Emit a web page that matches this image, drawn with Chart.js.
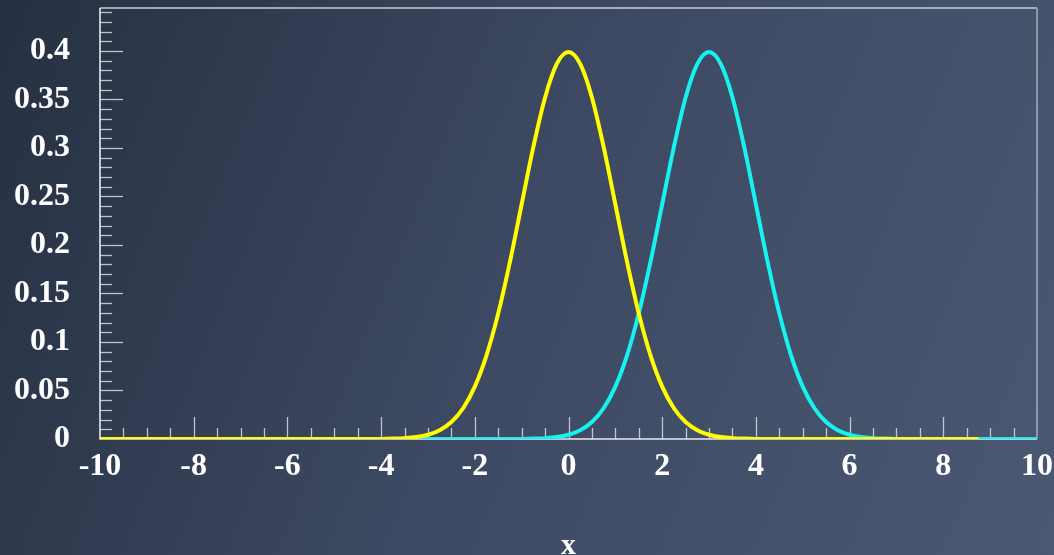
<!DOCTYPE html>
<html>
<head>
<meta charset="utf-8">
<script src="https://cdn.jsdelivr.net/npm/chart.js@4/dist/chart.umd.min.js"></script>
<style>
  html, body { margin: 0; padding: 0; }
  body {
    width: 1054px; height: 555px; overflow: hidden;
    background: linear-gradient(112deg, #263042 0%, #3d4962 48%, #4a5873 100%);
  }
  canvas { display: block; }
</style>
</head>
<body>
<canvas id="c" width="1054" height="555"></canvas>
<script>
// ---- data ----
const xValues = [
  -10,-9.75,-9.5,-9.25,-9,-8.75,-8.5,-8.25,-8,-7.75,-7.5,-7.25,-7,-6.75,-6.5,-6.25,
  -6,-5.75,-5.5,-5.25,-5,-4.75,-4.5,-4.25,-4,-3.75,-3.5,-3.25,-3,-2.75,-2.5,-2.25,
  -2,-1.75,-1.5,-1.25,-1,-0.75,-0.5,-0.25,0,0.25,0.5,0.75,1,1.25,1.5,1.75,
  2,2.25,2.5,2.75,3,3.25,3.5,3.75,4,4.25,4.5,4.75,5,5.25,5.5,5.75,
  6,6.25,6.5,6.75,7,7.25,7.5,7.75,8,8.25,8.5,8.75,9,9.25,9.5,9.75,10
];
// yellow curve (centred at 0); its trace ends near x = 8.75 in the picture
const yellowValues = [
  0,0,0,0,0,0,0,0,0,0,0,0,0,0,0,0,
  0,0,0,0,0,0,0,0.00005,0.0001,0.0004,0.0009,0.002,0.0044,0.0091,0.0175,0.0317,
  0.054,0.0863,0.1295,0.1826,0.242,0.3011,0.3521,0.3867,0.3989,0.3867,0.3521,0.3011,0.242,0.1826,0.1295,0.0863,
  0.054,0.0317,0.0175,0.0091,0.0044,0.002,0.0009,0.0004,0.0001,0.00005,0,0,0,0,0,0,
  0,0,0,0,0,0,0,0,0,0,0,0
];
// cyan curve (centred at 3)
const cyanValues = [
  0,0,0,0,0,0,0,0,0,0,0,0,0,0,0,0,
  0,0,0,0,0,0,0,0,0,0,0,0,0,0,0,0,
  0,0,0,0.00005,0.0001,0.0004,0.0009,0.002,0.0044,0.0091,0.0175,0.0317,0.054,0.0863,0.1295,0.1826,
  0.242,0.3011,0.3521,0.3867,0.3989,0.3867,0.3521,0.3011,0.242,0.1826,0.1295,0.0863,0.054,0.0317,0.0175,0.0091,
  0.0044,0.002,0.0009,0.0004,0.0001,0.00005,0,0,0,0,0,0,0,0,0,0,0
];
const xTickLabels = ['-10','-8','-6','-4','-2','0','2','4','6','8','10'];
const yTickLabels = ['0','0.05','0.1','0.15','0.2','0.25','0.3','0.35','0.4'];
const xRange = [-10, 10];
const yRange = [0, 0.4443];
const xMinorStep = 0.5;
const yMinorStep = 0.01;
const xTitle = 'x';

// ---- chart ----
const toPoints = (vals) => vals.map((v, i) => ({ x: xValues[i], y: v }));
const labelFont = { family: "'Liberation Serif', 'Times New Roman', serif", size: 32, weight: 'bold' };

const zeroPadding = (s) => { s.paddingTop = 0; s.paddingBottom = 0; s.paddingLeft = 0; s.paddingRight = 0; };

const framePlugin = {
  id: 'frame',
  beforeDatasetsDraw(chart) {
    const { ctx, chartArea: a, scales: { x, y } } = chart;
    ctx.save();
    ctx.strokeStyle = 'rgba(215,219,227,0.85)';
    ctx.lineWidth = 1.3;
    const nx = Math.round((xRange[1] - xRange[0]) / xMinorStep);
    for (let i = 1; i < nx; i++) {
      const v = xRange[0] + i * xMinorStep;
      const major = Math.abs(v / 2 - Math.round(v / 2)) < 1e-9;
      const px = Math.round(x.getPixelForValue(v)) + 0.5;
      ctx.beginPath();
      ctx.moveTo(px, a.bottom);
      ctx.lineTo(px, a.bottom - (major ? 22 : 11));
      ctx.stroke();
    }
    const ny = Math.floor((yRange[1] - yRange[0]) / yMinorStep + 1e-9);
    for (let i = 1; i <= ny; i++) {
      const v = yRange[0] + i * yMinorStep;
      const major = i % 5 === 0;
      const py = Math.round(y.getPixelForValue(v)) + 0.5;
      ctx.beginPath();
      ctx.moveTo(a.left, py);
      ctx.lineTo(a.left + (major ? 23 : 12), py);
      ctx.stroke();
    }
    ctx.lineWidth = 1.6;
    ctx.strokeStyle = '#c9cdd5';
    ctx.beginPath();
    ctx.moveTo(a.left, a.top); ctx.lineTo(a.right, a.top); ctx.stroke();
    ctx.strokeStyle = '#8e97a8';
    ctx.lineWidth = 2;
    ctx.beginPath();
    ctx.moveTo(a.right, a.top); ctx.lineTo(a.right, a.bottom); ctx.stroke();
    ctx.strokeStyle = '#e6e8ee';
    ctx.lineWidth = 1.6;
    ctx.beginPath();
    ctx.moveTo(a.left, a.top); ctx.lineTo(a.left, a.bottom); ctx.lineTo(a.right, a.bottom); ctx.stroke();
    ctx.restore();
  }
};

new Chart(document.getElementById('c'), {
  type: 'line',
  data: {
    datasets: [
      {
        label: 'yellow',
        data: toPoints(yellowValues),
        borderColor: '#ffff00',
        borderWidth: 4,
        pointRadius: 0,
        cubicInterpolationMode: 'monotone',
        fill: false,
        order: 0
      },
      {
        label: 'cyan',
        data: toPoints(cyanValues),
        borderColor: '#16f2f0',
        borderWidth: 4,
        pointRadius: 0,
        cubicInterpolationMode: 'monotone',
        fill: false,
        order: 1
      }
    ]
  },
  options: {
    responsive: false,
    animation: false,
    devicePixelRatio: 1,
    layout: { padding: { top: 8, right: 17, left: 0, bottom: 0 } },
    plugins: { legend: { display: false }, tooltip: { enabled: false } },
    scales: {
      x: {
        type: 'linear',
        min: xRange[0], max: xRange[1],
        grid: { display: false, drawTicks: false },
        border: { display: false },
        afterBuildTicks: (s) => { s.ticks = xTickLabels.map(t => ({ value: Number(t) })); },
        afterFit: (s) => { s.height = 116; zeroPadding(s); },
        ticks: {
          autoSkip: false, maxRotation: 0, minRotation: 0,
          padding: 9, color: '#ffffff', font: labelFont,
          callback: (v, i) => xTickLabels[i]
        },
        title: {
          display: true, text: xTitle, color: '#ffffff',
          font: { family: labelFont.family, size: 30, weight: 'bold', lineHeight: 1 },
          padding: { top: 0, bottom: -6 }
        }
      },
      y: {
        type: 'linear',
        min: yRange[0], max: yRange[1],
        grid: { display: false, drawTicks: false },
        border: { display: false },
        afterBuildTicks: (s) => { s.ticks = yTickLabels.map(t => ({ value: Number(t) })); },
        afterFit: (s) => { s.width = 100; zeroPadding(s); },
        ticks: {
          autoSkip: false, padding: 30, color: '#ffffff', font: labelFont,
          callback: (v, i) => yTickLabels[i]
        }
      }
    }
  },
  plugins: [framePlugin]
});
</script>
</body>
</html>
